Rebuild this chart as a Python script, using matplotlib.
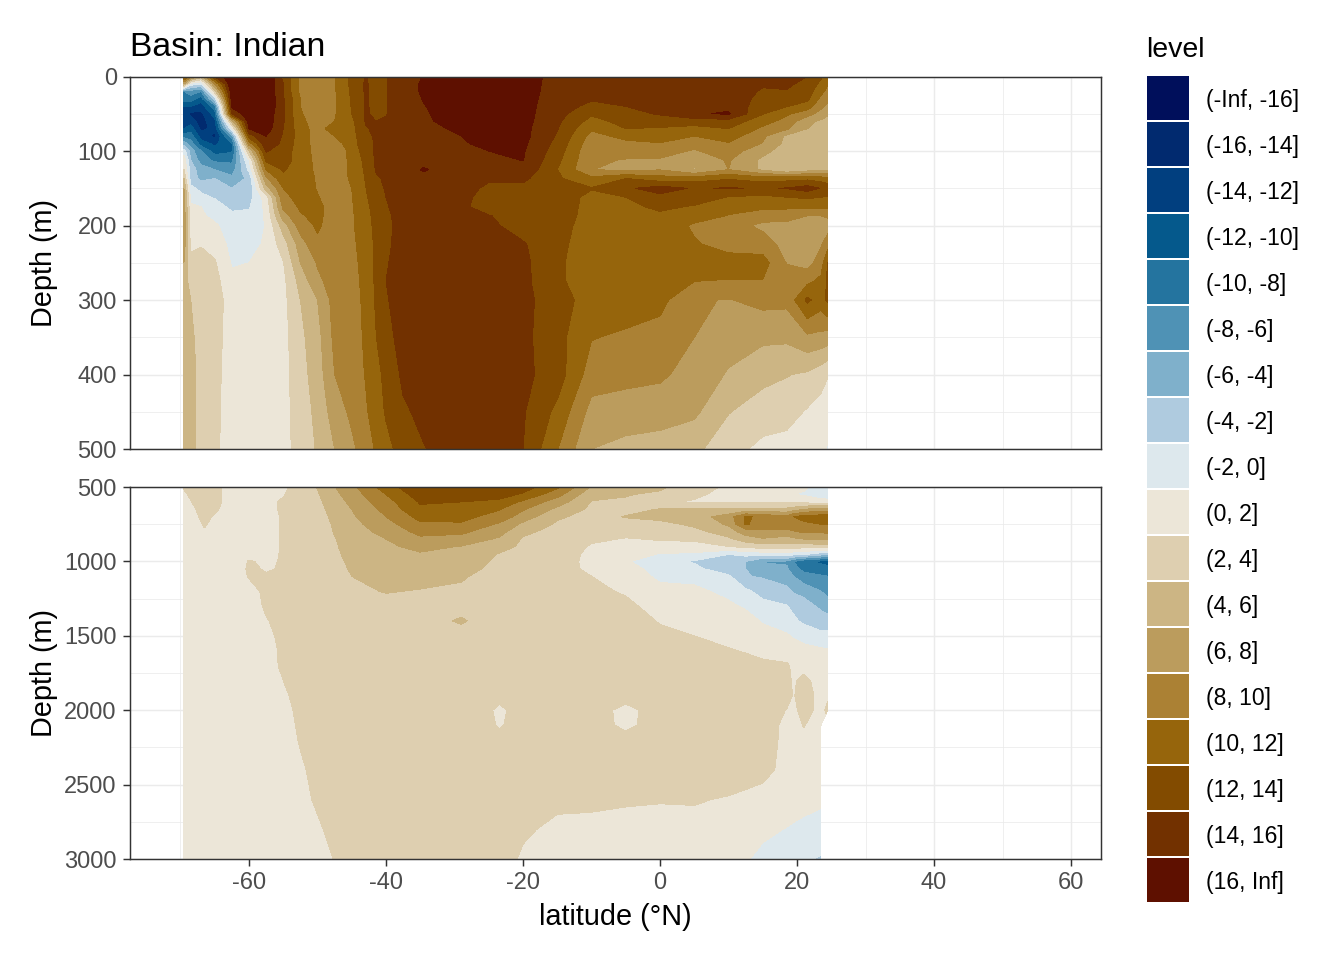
import numpy as np
import matplotlib
matplotlib.use('Agg')
import matplotlib.pyplot as plt
from matplotlib.patches import Rectangle

plt.rcParams['font.family'] = ['Liberation Sans', 'DejaVu Sans']
plt.rcParams['axes.unicode_minus'] = False

# Values, one inner list per latitude, top to bottom in depth
top_depth = [0, 10, 20, 30, 40, 50, 60, 70, 80, 90, 100, 112, 125, 137, 150, 162, 175, 187, 200,
             225, 250, 275, 300, 350, 400, 450, 500]
top_lat = [-69.5, -68.5, -67, -65, -62.5, -60, -57.5, -55, -52.5, -50, -47.5, -45, -43, -41.5, -40, -37.5,
           -34.5, -30, -25, -20, -15, -10, -5, 0, 5, 10, 15, 18.5, 21.5, 23.5, 24.5]
top_temp = [
    [13, 6, -8, -9, -12, -13, -13, -12, -9, -5, -1, 1, 2, 4, 6, 7, 7, 7, 7, 7, 6, 5, 5, 5, 5, 5, 5],
    [9, -1, -7, -9, -12, -14.5, -13, -11, -9, -7, -5, -4, -3, -3, -1.5, -.5, .3, .8, 1, 1.5, 2.6, 3.2, 4, 4.5, 5, 5, 5],
    [5, -2, -8, -11, -13, -14.5, -15, -14.5, -13, -11, -8, -7, -5, -4.5, -2.5, -1.5, 0, .3, 1.2, 1.9, 2.5, 3, 3, 3, 3, 3, 3],
    [14, 8, 3, -3, -9, -11, -12.5, -13.5, -14.5, -12.5, -11, -8.5, -6, -4, -2.5, -2.2, -1, -.5, .3, 1.2, 2.2, 2.7, 3, 2.8, 2.6, 2.5, 2.4],
    [18, 18, 17.5, 17, 16.5, 14, 5, -.5, -7, -10.2, -10.3, -8.5, -7, -5.5, -4, -3, -2.5, -1.5, -1, -.6, -.2, .5, 1, 1, 1, 1, 1],
    [18, 18, 18, 18, 18, 17.5, 17, 16, 13, 9, 4, 0, -1.5, -3.5, -3.8, -2.8, -2.2, -1.5, -1.2, -.7, 0, .5, .8, 1, 1, 1, 1],
    [18, 18, 18, 18, 18, 17.5, 17.3, 17, 16, 15.5, 14.2, 12.5, 10, 7.5, 5, 1, .5, .3, .1, .3, .8, 1, 1, 1, 1, 1, 1],
    [13.5, 14, 14, 14.2, 14.2, 14.2, 14.2, 14, 13.8, 13.5, 13, 12.8, 12.2, 11.5, 10, 9.5, 8.5, 7, 5, 3, 1.9, 1.5, 1.4, 1.3, 1.3, 1.3, 1.3],
    [9.5, 9.5, 9.5, 10, 10, 10.2, 10.5, 10.8, 11, 11, 11, 11.2, 11, 11, 10.8, 10.6, 10.3, 9.8, 9, 7, 6, 4.7, 4, 3.5, 3.2, 3, 2.8],
    [8.5, 8.5, 8.5, 8.5, 8.5, 8.8, 9, 9.2, 9.2, 9.2, 9.3, 9.4, 9.6, 9.8, 9.9, 10.1, 10.5, 10.5, 10.3, 9.6, 8.2, 7.5, 6, 5.3, 5, 4.5, 4.2],
    [9.8, 9.8, 9.8, 9.8, 9.8, 9.8, 10, 11, 10, 9.3, 9.3, 9.2, 9.2, 9.2, 9.2, 9.1, 9.1, 9, 9, 9, 9, 9, 8.8, 8.5, 8, 7, 6],
    [12.5, 12.5, 12.3, 12.2, 12.1, 12, 11.5, 11.3, 11, 10.8, 10.3, 10.3, 10.3, 10.2, 10, 9.9, 9.8, 9.7, 9.7, 9.5, 9.3, 9.2, 9.2, 9, 8.8, 8.4, 7.6],
    [14.1, 14.2, 14.2, 14.2, 14.2, 14.2, 14.1, 13.9, 13.8, 13.6, 13.3, 12.6, 12.3, 12.1, 11.9, 11.7, 11.5, 11.4, 11.3, 11, 10.8, 10.6, 10.4, 10.3, 10.1, 9.7, 8.9],
    [13.4, 13.4, 13.4, 13.5, 13.6, 13.7, 14, 14.2, 14.1, 14.1, 14.2, 14.2, 14.1, 13.8, 13.6, 13, 12.7, 12.5, 12.4, 12.3, 12.3, 12.3, 12.2, 11.9, 11.4, 11, 10.2],
    [13.9, 13.9, 13.9, 13.9, 13.9, 13.9, 14.2, 14.4, 14.5, 14.5, 14.6, 14.5, 14.4, 14.2, 14.1, 14, 13.8, 13.5, 13.4, 13.5, 13.8, 14, 13.8, 13.3, 12.5, 12.2, 11.4],
    [15, 15, 15, 15, 15, 15, 15, 15, 15, 15, 15, 15, 15, 15, 15, 15, 15, 15, 15, 15, 15, 15, 15, 14.8, 14.4, 13.7, 12.8],
    [16.1, 16.3, 16.3, 16.1, 15.9, 15.7, 15.5, 15.4, 15.3, 15.3, 15.3, 15.3, 16.2, 15.3, 15.2, 15.2, 15.2, 15.2, 15.2, 15.2, 15.2, 15.2, 15.2, 15, 14.8, 14.5, 13.9],
    [17.2, 17.3, 17.3, 17.3, 17.2, 17.1, 17, 16.2, 15.8, 15.6, 15.3, 15.2, 15, 14.9, 14.8, 14.8, 14.8, 14.8, 14.8, 14.8, 14.8, 14.8, 14.8, 14.8, 14.8, 14.8, 14.8],
    [17.5, 17.5, 17.5, 17.5, 17.5, 17.3, 17.2, 17, 16.8, 16.5, 16, 15.6, 15, 14.2, 13.7, 13.3, 13, 14.1, 14.5, 14.8, 14.9, 14.9, 14.9, 14.9, 14.9, 14.9, 14.9],
    [16.8, 16.8, 16.8, 16.8, 16.7, 16.7, 16.7, 16.6, 16.6, 16.4, 16.2, 16.05, 15.5, 14.4, 13.5, 13.2, 13.1, 13, 13, 14.2, 14.5, 14.5, 14.5, 14.5, 14.5, 14.2, 14],
    [15.4, 15.3, 15.2, 15, 14.9, 14.7, 14.4, 14.1, 13.8, 13.4, 13, 12.5, 12, 12.3, 12.7, 12.8, 12.8, 12.8, 12.6, 12.4, 12.3, 12.4, 13, 12.7, 13, 11.5, 10.1],
    [15.4, 15, 14.7, 14.2, 13.5, 12.3, 11.3, 10.3, 9.3, 8.8, 8.4, 8.3, 8.05, 10.5, 12.1, 11.6, 11.5, 11.4, 11.3, 11.2, 11, 10.8, 11, 10.1, 9, 7.3, 6],
    [15.6, 15.5, 15.2, 14.7, 14, 13.3, 12.7, 12, 10.6, 9.5, 8.8, 7.9, 7.4, 12, 13.7, 12, 11.5, 11.3, 11.2, 11, 11, 11, 11, 9.7, 8.7, 6.9, 5.5],
    [15.6, 15.5, 15.4, 15, 14.5, 14.2, 13, 11.8, 10.8, 9.9, 8.8, 7.8, 7.9, 10.9, 14.8, 13.5, 12.4, 11.6, 11.3, 11, 11, 11, 10.6, 9.2, 8.3, 7, 5],
    [15.5, 15.2, 15, 14.9, 15.3, 15.8, 13, 11.3, 10, 8.8, 7.8, 6.7, 5.8, 11, 13.8, 13, 11.8, 10.9, 9.7, 10.2, 11, 10, 8.2, 8, 7.3, 6.4, 4.5],
    [15, 15, 15, 15.4, 15.6, 16.2, 13.2, 12, 11, 9.8, 9, 8.2, 8, 11.8, 14.15, 11.9, 10.6, 9.9, 9, 9.3, 10.8, 9.9, 7.9, 6.9, 5.8, 4.1, 2.7],
    [14.5, 14.2, 13.8, 13.3, 12.8, 12.1, 10.8, 9.6, 8.4, 7.9, 6.6, 5.6, 5.6, 11, 13.8, 11.5, 10.4, 9, 7.5, 9, 10.8, 9.9, 8.6, 6.4, 4.6, 3, 1.5],
    [14.8, 14.3, 13.9, 13, 12.1, 10.3, 9.3, 8.3, 5.6, 5.4, 5, 4.4, 3.9, 11.3, 14.1, 12, 10.5, 8.4, 7.7, 7.2, 7.9, 9, 8.5, 6.4, 4.1, 2.8, 1.2],
    [14, 13.5, 13, 12.5, 11, 8.9, 6.5, 6, 5.5, 5.4, 5.2, 5, 5, 11.5, 14.9, 12.3, 10.3, 8, 7.5, 7.3, 7.2, 9.5, 12.4, 7.6, 3.7, 1.8, 1],
    [12.3, 11.5, 10.5, 9.5, 8.5, 7.2, 5.7, 5.4, 5.2, 5.2, 5.1, 5, 5.3, 11, 13.9, 12, 10.3, 8, 7.2, 7.8, 9, 10.5, 11, 7.4, 2.8, 1.2, .5],
    [10.5, 10.1, 9.5, 8.5, 7.5, 6.2, 5.5, 5.2, 5.2, 5.2, 5.2, 5.2, 5.8, 10.5, 13.3, 11.8, 10.3, 8.3, 7, 9.2, 12, 12.5, 12.4, 7.1, 2.1, 1, -.2],
]

bottom_depth = [500, 550, 600, 650, 700, 750, 800, 850, 900, 950, 1000, 1050, 1100, 1200, 1300, 1400, 1500,
                1600, 1700, 1800, 1900, 2000, 2100, 2200, 2400, 2600, 2800, 3000]
bottom_lat = [-69.5, -66.5, -64, -62, -60, -57.5, -55, -52.5, -50, -47.5, -45, -40, -35, -29, -23.5, -20, -15,
              -10, -5, 0, 5, 10, 12.5, 15, 18.5, 19.5, 21, 23.5, 24.5]
nan = float('nan')
bottom_temp = [
    [2.1, 1.8, 1.5, 1.3, 1.2, 1.1, 1, 1, 1, 1, 1, 1, 1, 1, 1, 1, 1, 1, 1, 1, 1, 1, 1, 1, 1, 1, 1, 1],
    [3, 3, 2.8, 2.5, 2.3, 2.1, 1.9, 1.7, 1.5, 1.4, 1.3, 1.2, 1.2, 1.2, 1.2, 1.2, 1.2, 1.2, 1.2, 1.2, 1.2, 1.2, 1.2, 1.2, 1.2, 1.2, 1.2, 1.2],
    [2, 2, 2, 1.9, 1.6, 1.4, 1.3, 1.2, 1.2, 1.2, 1.2, 1.2, 1.2, 1.2, 1.2, 1.2, 1.2, 1.2, 1.2, 1.2, 1.2, 1.2, 1.2, 1.2, 1.2, 1.2, 1.2, 1.2],
    [1.4, 1.4, 1.4, 1.4, 1.3, 1.3, 1.3, 1.3, 1.3, 1.3, 1.3, 1.3, 1.3, 1.3, 1.3, 1.3, 1.3, 1.3, 1.3, 1.3, 1.3, 1.3, 1.3, 1.3, 1.3, 1.3, 1.3, 1.3],
    [1.3, 1.3, 1.3, 1.3, 1.3, 1.3, 1.3, 1.3, 1.3, 1.5, 2.1, 2.2, 2.1, 1.5, 1.3, 1.3, 1.3, 1.3, 1.3, 1.3, 1.3, 1.3, 1.3, 1.3, 1.3, 1.3, 1.3, 1.3],
    [1.6, 1.6, 1.6, 1.6, 1.6, 1.6, 1.6, 1.6, 1.6, 1.7, 1.8, 1.9, 2.1, 2.3, 2.2, 1.9, 1.6, 1.4, 1.3, 1.3, 1.3, 1.3, 1.3, 1.3, 1.3, 1.3, 1.3, 1.3],
    [1.7, 1.9, 2.2, 2.2, 2.1, 2.1, 2.1, 2.1, 2.1, 2.1, 2.1, 2.1, 2.4, 2.5, 2.5, 2.5, 2.4, 2.3, 2.3, 2, 1.8, 1.6, 1.5, 1.4, 1.3, 1.3, 1.2, 1.2],
    [2.7, 2.7, 2.8, 2.9, 2.9, 2.9, 2.9, 2.9, 2.9, 2.9, 2.9, 2.9, 2.9, 2.9, 2.9, 2.8, 2.8, 2.7, 2.6, 2.5, 2.4, 2.3, 2.2, 2.1, 1.8, 1.6, 1.5, 1.4],
    [4.1, 3.8, 3.6, 3.4, 3.3, 3.2, 3.1, 3, 3, 3, 3, 3, 3, 3, 3, 3, 3, 3, 3, 3, 3, 2.9, 2.8, 2.7, 2.4, 2.2, 1.8, 1.5],
    [5.9, 5.5, 5, 4.7, 4.4, 4.2, 4.1, 3.9, 3.8, 3.7, 3.6, 3.5, 3.4, 3.3, 3.2, 3.1, 3, 3, 3, 3, 3, 3, 3, 3, 2.9, 2.7, 2.4, 2.05],
    [7.5, 7, 6.5, 6, 5.7, 5.4, 5.1, 4.9, 4.7, 4.5, 4.3, 4.15, 4, 3.6, 3.3, 3.1, 3, 3, 3, 3, 3, 3, 3, 3, 3, 3, 3, 2.8],
    [11, 10, 9.2, 8.6, 8, 7.2, 6.6, 6, 5.6, 5.2, 4.9, 4.7, 4.5, 4.1, 3.4, 3.1, 3, 3, 3, 3, 3, 3, 3, 3, 3, 3, 3, 3],
    [13.8, 13, 12.2, 11.6, 10.6, 9.7, 8.6, 7.6, 6.6, 5.8, 5.4, 5, 4.6, 3.9, 3.5, 3.3, 3.1, 3, 3, 3, 3, 3, 3, 3, 3, 3, 3, 3],
    [14.1, 13, 12, 11.2, 10.5, 9.8, 8.4, 7.3, 5.9, 5.5, 5.2, 4.7, 4.2, 3.7, 3.4, 4.2, 3.3, 3, 3, 3, 3, 3, 3, 3, 3, 3, 3, 3],
    [14, 12.9, 11.5, 10.1, 9.3, 7.7, 6.8, 5.7, 4.8, 3.9, 3.6, 3.4, 3.2, 3, 3, 2.9, 2.7, 2.6, 2.5, 2.4, 2.3, 1.8, 1.9, 2.3, 2.4, 2.5, 2.6, 2.6],
    [13, 11.7, 9.6, 8.2, 7, 5.6, 4.4, 3.8, 3.6, 3.4, 3.3, 3.2, 3.1, 3, 3, 2.8, 2.7, 2.6, 2.5, 2.5, 2.5, 2.4, 2.4, 2.4, 2.4, 2.5, 2.2, 1.8],
    [10.4, 8.7, 7, 5.5, 4.3, 3.7, 3.4, 3.3, 3.2, 3.1, 3, 3, 3, 3, 3, 3, 3, 3, 3, 3, 3, 3, 3, 3, 2.6, 2.3, 1.7, 1.4],
    [5.8, 4.6, 3.9, 3.6, 3.3, 3, 2.8, 2.3, 1.8, 1.5, 1.4, 1.5, 2, 2.4, 2.6, 2.7, 2.8, 2.8, 2.8, 2.8, 2.8, 2.8, 2.8, 2.8, 2.7, 2.3, 1.6, 1.3],
    [5, 4.1, 3.8, 3.4, 4.1, 3.4, 2.5, 1.9, 1.5, 1, .2, 1, 1.4, 1.8, 2.4, 2.7, 2.8, 2.9, 2.9, 2.9, 2.7, 1.5, 1.6, 2.6, 2.5, 2.1, 1.7, 1.6],
    [4.3, 3.7, 2.4, 4.1, 4.6, 3.4, 2.7, 2.1, 1.6, -.1, -1.2, -1, -.5, .7, 1.3, 1.9, 2.3, 2.6, 2.8, 2.8, 2.8, 2.8, 2.8, 2.8, 2.7, 2.05, 1.7, 1.5],
    [3, 2.4, 1.8, 4.2, 5, 4.4, 3.4, 2.3, 1.3, -.3, -2.2, -1.5, -.7, .5, 1.3, 1.6, 2, 2.4, 2.6, 2.7, 2.7, 2.7, 2.7, 2.7, 2.5, 2.1, 1.6, 1.2],
    [1.6, 1.3, 1.7, 4.2, 7, 6.3, 5, 3.6, 2, -1.9, -3.6, -3.2, -1.7, -.6, .4, 1.3, 1.6, 2.1, 2.5, 2.7, 2.7, 2.7, 2.7, 2.7, 2.7, 1.9, 1.3, 1],
    [1.5, 1.2, 1.6, 4.3, 10.3, 10.2, 7, 5, 2.5, -1.2, -4, -4, -3.9, -1.6, -.3, .9, 1.5, 1.9, 2.5, 2.7, 2.7, 2.7, 2.7, 2.7, 2.6, 1.7, .9, .2],
    [1.5, 1.2, 1.6, 4.3, 9.5, 9.2, 7.6, 5.8, 3, -1, -6.2, -5, -4.2, -2.7, -1.4, -.2, .8, 1.6, 2.3, 2.8, 2.8, 2.8, 2.8, 2.7, 2.4, 1.5, .5, -.6],
    [.8, .3, 1.6, 4.5, 8.5, 9.3, 7.3, 5.2, 3, -.8, -6.3, -5.7, -5, -3.5, -1.9, -.9, .2, 1.2, 2.2, 2.4, 2.5, 1.95, 1.6, 1.6, 1.6, 1.3, -.1, -1.6],
    [.5, 0, 1.5, 5, 10, 9.4, 7.8, 5.6, 2.9, -1.1, -8, -7.2, -6, -4.2, -2.5, -1.6, -.2, .8, 1.7, 1.8, 1.9, 1.7, 1.4, 1.5, 1.4, 1, -.3, -1.7],
    [.3, -.2, 1.4, 6, 10.8, 9.5, 8.3, 6, 2.8, -1.5, -9.5, -8.7, -7.2, -4.8, -3, -2.4, -.6, .5, 1.3, 2.5, 2.7, 2.5, 2.1, 1.5, 1.1, .8, -.6, -1.7],
    [-.8, -1, .7, 7, 11, 10, 8.3, 6.2, 3, -3, -10.5, -9, -7.8, -6, -4.5, -2.8, -1.6, .4, 1, 1.2, 1.5, 1.6, 1, 1, 1, .3, -.7, -2.2],
    [-1, -1, .6, 7, 11, 10, 8.5, 6.3, 3.2, -3, -11, -9.3, -8, -6.5, -5.3, -3, -1.4, .2, 1, 1.2, 1.8, 2.3, nan, nan, nan, nan, nan, nan],
]

levels = [-100, -16, -14, -12, -10, -8, -6, -4, -2, 0, 2, 4, 6, 8, 10, 12, 14, 16, 100]
level_labels = ['(-Inf, -16]', '(-16, -14]', '(-14, -12]', '(-12, -10]', '(-10, -8]', '(-8, -6]', '(-6, -4]',
                '(-4, -2]', '(-2, 0]', '(0, 2]', '(2, 4]', '(4, 6]', '(6, 8]', '(8, 10]', '(10, 12]', '(12, 14]',
                '(14, 16]', '(16, Inf]']
level_colors = ['#000f5b', '#012a6f', '#013f7f', '#05598c', '#24749f', '#4f92b5', '#7fb0cb', '#afcbdf', '#dde8ed',
                '#ece6d8', '#decfb0', '#ccb584', '#bb9c5d', '#ab8134', '#96650c', '#824b00', '#723100', '#5e1000']

W, H = 1344, 960
fig = plt.figure(figsize=(W / 100, H / 100), dpi=100)


def panel(left, top, right, bottom):
    # axes from pixel box
    return fig.add_axes([left / W, 1 - bottom / H, (right - left) / W, (bottom - top) / H])


def style_panel(ax, ylim, major, minor):
    ax.set_xlim((130 - 660) / 6.85, (1101 - 660) / 6.85)
    ax.set_ylim(ylim)
    ax.set_xticks([-60, -40, -20, 0, 20, 40, 60])
    ax.set_xticks([-70, -50, -30, -10, 10, 30, 50], minor=True)
    ax.set_yticks(major)
    ax.set_yticks(minor, minor=True)
    ax.set_yticklabels([str(d) for d in major])
    ax.grid(which='major', color='#ebebeb', linewidth=1.05)
    ax.grid(which='minor', color='#ebebeb', linewidth=0.55)
    ax.set_axisbelow(True)
    ax.tick_params(which='minor', length=0)
    ax.tick_params(which='major', length=5, width=1.05, color='#333333', labelcolor='#4d4d4d', labelsize=17)
    ax.tick_params(axis='y', which='major', pad=4.5)
    ax.tick_params(axis='x', which='major', pad=4.5)
    for s in ax.spines.values():
        s.set_color('#333333')
        s.set_linewidth(1.05)
    ax.set_ylabel('Depth (m)', fontsize=20.8, color='black')
    ax.yaxis.set_label_coords(-72 / 971, 0.5)


ax_top = panel(130, 76.5, 1101, 449)
ax_top.contourf(top_lat, top_depth, np.array(top_temp).T, levels=levels, colors=level_colors, antialiased=False)
style_panel(ax_top, (500, 0), [0, 100, 200, 300, 400, 500], [50, 150, 250, 350, 450])
ax_top.tick_params(axis='x', which='both', length=0, labelbottom=False)
ax_top.set_title('Basin: Indian', loc='left', fontsize=24.3, color='black', pad=15)

ax_bot = panel(130, 487, 1101, 859)
ax_bot.contourf(bottom_lat, bottom_depth, np.array(bottom_temp).T, levels=levels, colors=level_colors, antialiased=False)
style_panel(ax_bot, (3000, 500), [500, 1000, 1500, 2000, 2500, 3000], [750, 1250, 1750, 2250, 2750])
ax_bot.set_xticklabels(['-60', '-40', '-20', '0', '20', '40', '60'])
ax_bot.set_xlabel('latitude (°N)', fontsize=20.8, color='black', va='center')
ax_bot.xaxis.set_label_coords(0.5, -58 / 372)

# hand-built legend
fig.text(1146 / W, 1 - 50 / H, 'level', fontsize=20.5, va='center', ha='left')
for i, (lab, col) in enumerate(zip(level_labels, level_colors)):
    y0 = 76 + i * 46
    fig.add_artist(Rectangle((1147 / W, 1 - (y0 + 43.5) / H), 42 / W, 43.5 / H, transform=fig.transFigure,
                             facecolor=col, edgecolor='none'))
    fig.text(1206 / W, 1 - (y0 + 25) / H, lab, fontsize=16.6, va='center', ha='left')

fig.savefig('out.png', dpi=100)
